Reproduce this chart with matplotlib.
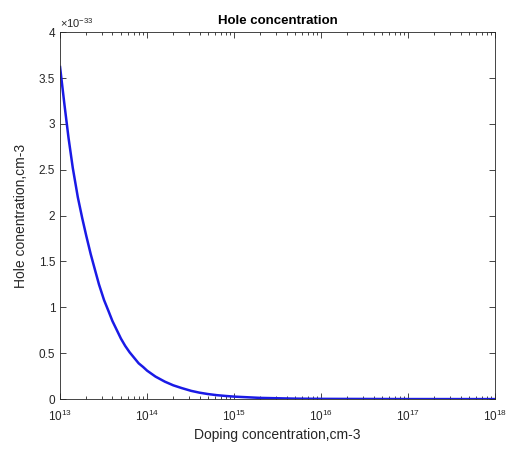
import matplotlib
matplotlib.use('Agg')
import matplotlib.pyplot as plt
import numpy as np
from matplotlib.ticker import FuncFormatter, LogLocator, NullFormatter

# values (doping in cm-3, holes in cm-3)
doping = [1e13, 1.12e13, 1.25e13, 1.4e13, 1.6e13, 1.8e13, 2e13, 2.25e13, 2.5e13, 2.8e13,
          3.2e13, 3.6e13, 4e13, 4.5e13, 5e13, 5.6e13, 6.3e13, 7.1e13, 8e13, 9e13,
          1e14, 1.25e14, 1.6e14, 2e14, 2.5e14, 3.2e14, 4e14, 5e14, 6.3e14, 8e14,
          1e15, 2e15, 5e15, 1e16, 1e17, 1e18]
holes = [3.62e-33, 3.22e-33, 2.85e-33, 2.52e-33, 2.2e-33, 1.97e-33, 1.78e-33, 1.58e-33,
         1.42e-33, 1.25e-33, 1.08e-33, 0.96e-33, 0.85e-33, 0.75e-33, 0.66e-33, 0.58e-33,
         0.51e-33, 0.45e-33, 0.39e-33, 0.35e-33, 0.31e-33, 0.245e-33, 0.19e-33, 0.15e-33,
         0.12e-33, 0.09e-33, 0.07e-33, 0.055e-33, 0.043e-33, 0.034e-33, 0.027e-33,
         0.013e-33, 0.005e-33, 0.0025e-33, 0.0003e-33, 0.00003e-33]
yticks = [0, 0.5e-33, 1e-33, 1.5e-33, 2e-33, 2.5e-33, 3e-33, 3.5e-33, 4e-33]

plt.rcParams['font.family'] = ['Liberation Sans', 'DejaVu Sans']
plt.rcParams['mathtext.fontset'] = 'custom'
plt.rcParams['mathtext.rm'] = 'Liberation Sans'
plt.rcParams['mathtext.it'] = 'Liberation Sans'
gray = (0.15, 0.15, 0.15)

fig = plt.figure(figsize=(5.09, 4.53), dpi=100)
ax = fig.add_axes([0.118, 0.119, 0.855, 0.81])

ax.plot(doping, holes, color=(0.1, 0.1, 0.9), linewidth=1.8)

ax.set_xscale('log')
ax.set_xlim(1e13, 1e18)
ax.set_ylim(0, 4e-33)
ax.set_yticks(yticks)
ax.yaxis.set_major_formatter(FuncFormatter(lambda v, p: '%g' % round(v * 1e33, 2)))
ax.xaxis.set_major_locator(LogLocator(base=10, numticks=10))
ax.xaxis.set_minor_locator(LogLocator(base=10, subs=np.arange(2, 10), numticks=20))
ax.xaxis.set_minor_formatter(NullFormatter())

ax.tick_params(which='both', direction='in', top=True, right=True,
               colors=gray, labelsize=8.5, width=0.6)
ax.tick_params(which='major', length=4)
ax.tick_params(which='minor', length=2)
ax.tick_params(axis='x', pad=7)
for s in ax.spines.values():
    s.set_color(gray)
    s.set_linewidth(0.6)

ax.text(0.0, 1.005, r'$\times 10^{-33}$', transform=ax.transAxes,
        fontsize=8, color=gray, ha='left', va='bottom')

ax.set_title('Hole concentration', fontsize=9.5, fontweight='bold', pad=6)
ax.set_xlabel('Doping concentration,cm-3', fontsize=10, color=gray, labelpad=3)
ax.set_ylabel('Hole conentration,cm-3', fontsize=10, color=gray, labelpad=8)

plt.savefig('out.png', dpi=100)
